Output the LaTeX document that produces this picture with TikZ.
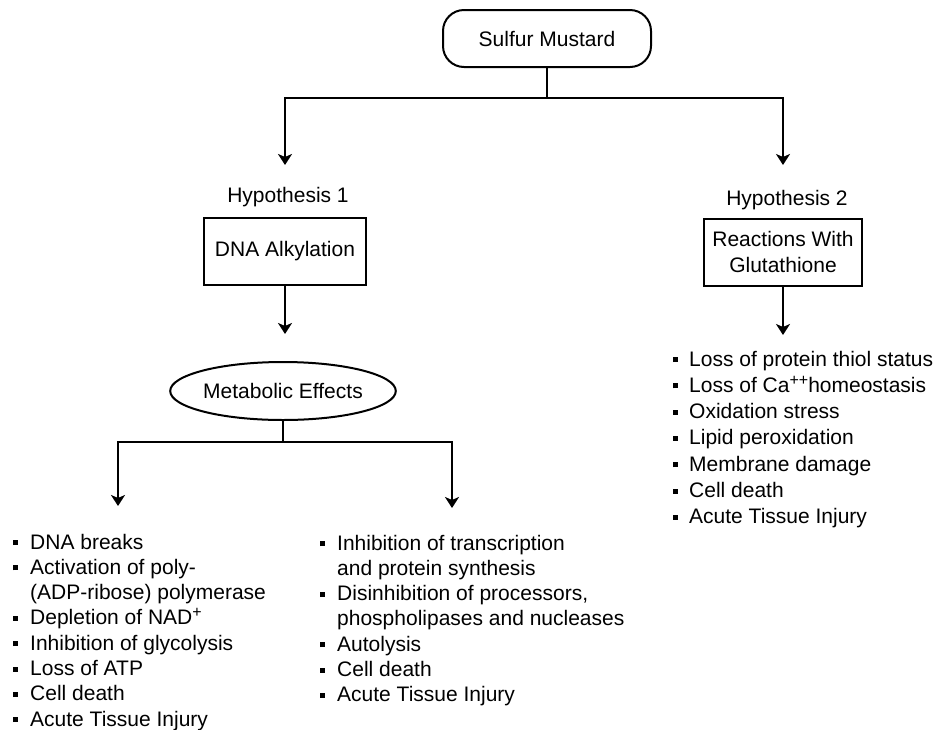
\documentclass[tikz,border=0pt]{standalone}
\usepackage{fontspec}
\setmainfont{Liberation Sans}
\usetikzlibrary{arrows.meta,shapes.geometric}
\newcommand\mybul{\rule[4pt]{5pt}{5pt}}
\newcommand\mysup[1]{\raisebox{7pt}{\fontsize{16}{16}\selectfont #1}}
\begin{document}
\begin{tikzpicture}[x=1pt,y=-1pt,
  every node/.style={font=\fontsize{21}{25.3}\selectfont, inner sep=0pt},
  ln/.style={line width=2pt},
  arr/.style={ln,-{Stealth[length=11pt,width=14pt,inset=3pt]}},
  boxnode/.style={draw,line width=2pt,rectangle,minimum height=67pt,align=center},
  ovalnode/.style={draw,line width=2pt,ellipse,minimum width=206pt,minimum height=58pt},
  pillnode/.style={draw,line width=2pt,rectangle,rounded corners=21pt,minimum width=208pt,minimum height=57pt},
  listnode/.style={anchor=base west,align=left}
]
\fill[white] (0,0) rectangle (937,729);
\useasboundingbox (0,0) rectangle (937,729);

\node[pillnode] (sm) at (547,38.5) {Sulfur Mustard};
\node (h1) at (288,197) {Hypothesis 1};
\node (h2) at (787,200) {Hypothesis 2};
\node[boxnode,minimum width=162pt] (dna) at (285,251.5) {DNA Alkylation};
\node[boxnode,minimum width=158pt] (rg) at (783,252) {Reactions With\\Glutathione};
\node[ovalnode] (me) at (283,391) {Metabolic Effects};

\coordinate (j1) at (547,98);
\coordinate (t1) at (285,165);
\coordinate (t2) at (783,165);
\coordinate (t3) at (285,334);
\coordinate (t4) at (783,335);
\coordinate (j2) at (283,442);
\coordinate (t5) at (118,506);
\coordinate (t6) at (452,508);

\draw[ln] (sm.south) -- (j1);
\draw[arr] (j1) -| (t1);
\draw[arr] (j1) -| (t2);
\draw[arr] (dna.south) -- (t3);
\draw[arr] (rg.south) -- (t4);
\draw[ln] (me.south) -- (j2);
\draw[arr] (j2) -| (t5);
\draw[arr] (j2) -| (t6);

\node[listnode] (l1) at (13,549) {\begin{tabular}[t]{@{}l@{\hspace{12pt}}l@{}}
\mybul & DNA breaks\\
\mybul & Activation of poly-\\
 & (ADP-ribose) polymerase\\
\mybul & Depletion of NAD\mysup{+}\\
\mybul & Inhibition of glycolysis\\
\mybul & Loss of ATP\\
\mybul & Cell death\\
\mybul & Acute Tissue Injury
\end{tabular}};

\node[listnode] (l2) at (320,550) {\begin{tabular}[t]{@{}l@{\hspace{12pt}}l@{}}
\mybul & Inhibition of transcription\\
 & and protein synthesis\\
\mybul & Disinhibition of processors,\\
 & phospholipases and nucleases\\
\mybul & Autolysis\\
\mybul & Cell death\\
\mybul & Acute Tissue Injury
\end{tabular}};

\node[listnode,font=\fontsize{21}{26.3}\selectfont] (l3) at (673,366) {\begin{tabular}[t]{@{}l@{\hspace{11pt}}l@{}}
\mybul & Loss of protein thiol status\\
\mybul & Loss of Ca\mysup{++}homeostasis\\
\mybul & Oxidation stress\\
\mybul & Lipid peroxidation\\
\mybul & Membrane damage\\
\mybul & Cell death\\
\mybul & Acute Tissue Injury
\end{tabular}};
\end{tikzpicture}
\end{document}
